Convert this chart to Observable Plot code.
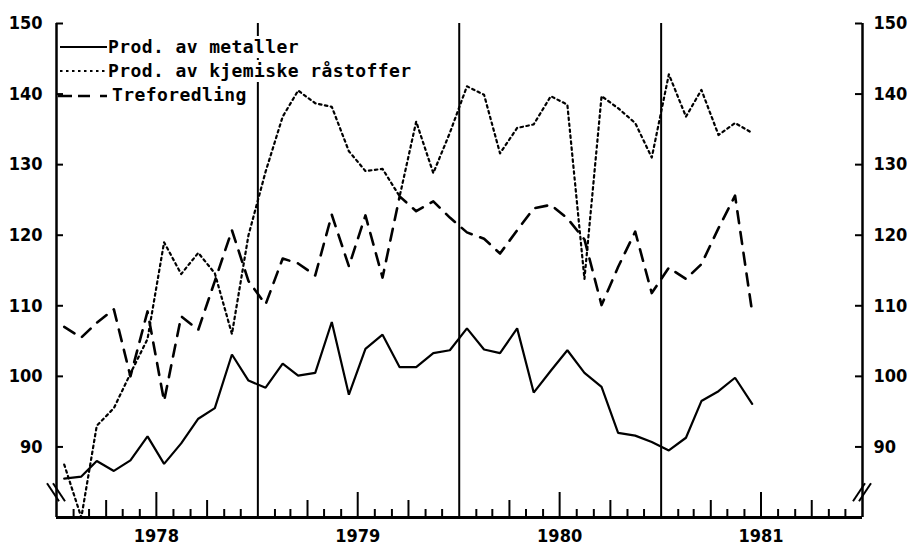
<!DOCTYPE html>
<html><head><meta charset="utf-8">
<script src="https://cdn.jsdelivr.net/npm/d3@7"></script>
<script src="https://cdn.jsdelivr.net/npm/@observablehq/plot@0.6"></script>
<style>
body{margin:0;background:#fff;}
#wrap{position:relative;width:907px;height:550px;}
#legend{position:absolute;left:58px;top:35px;font-family:"DejaVu Sans Mono",monospace;font-weight:bold;font-size:18px;letter-spacing:0.4px;color:#000;}
.row{display:flex;align-items:center;height:24px;white-space:nowrap;}
.row svg{flex:none;display:block;}
.row span{background:#fff;line-height:22px;}
</style></head><body><div id="wrap"><div id="legend"></div></div>
<script>
// Monthly indices, Jan 1978 – Jun 1981 (plotted mid-month)
const firstMonth = "1978-01-01";
const afterLastMonth = "1981-07-01";
const seriesNames = ["Prod. av metaller", "Prod. av kjemiske råstoffer", "Treforedling"];
const metaller = [85.5, 85.8, 88.0, 86.6, 88.1, 91.5, 87.6, 90.5, 94.0, 95.5, 103.1, 99.4,
  98.4, 101.8, 100.1, 100.5, 107.7, 97.4, 103.9, 105.9, 101.3, 101.3, 103.3, 103.7,
  106.8, 103.8, 103.3, 106.8, 97.7, 100.8, 103.7, 100.5, 98.5, 92.0, 91.6, 90.7,
  89.5, 91.3, 96.5, 97.9, 99.8, 96.1];
const kjemiske = [87.5, 80, 93, 95.5, 100.4, 105.3, 119, 114.5, 117.5, 114.6, 106, 120,
  129, 136.8, 140.5, 138.7, 138.2, 131.9, 129.1, 129.4, 125.5, 136.1, 128.8, 134.5,
  141.1, 139.9, 131.6, 135.2, 135.7, 139.7, 138.5, 113.8, 139.7, 138, 135.9, 131,
  142.8, 136.8, 140.6, 134.2, 135.9, 134.5];
const treforedling = [107, 105.5, 107.6, 109.5, 100, 109.2, 96.5, 108.5, 106.6, 113.5, 120.7, 113.5,
  110.2, 116.7, 116, 114.3, 122.9, 115.6, 122.8, 114, 125.5, 123.4, 124.8, 122.5,
  120.4, 119.5, 117.4, 120.7, 123.8, 124.3, 122.4, 119.4, 110.1, 115.5, 120.5, 111.8,
  115.4, 113.8, 115.9, 121, 125.6, 109.1];
const yTicks = [90, 100, 110, 120, 130, 140, 150];
const yearLabels = ["1978", "1979", "1980", "1981"];
const xDomain = ["1978-01-01", "1982-01-01"];
const yDomain = [80, 150];
const breakValue = 83.5;

const W = 907, H = 550, mL = 56, mR = 45, mT = 23, mB = 33;
const innerW = W - mL - mR, innerH = H - mT - mB;

const months = d3.utcMonth.range(new Date(firstMonth), new Date(afterLastMonth))
  .map(d => d3.utcDay.offset(d, 14));
const rows = months.map((date, i) => ({date, metaller: metaller[i], kjemiske: kjemiske[i], treforedling: treforedling[i]}));

const x0 = new Date(xDomain[0]), x1 = new Date(xDomain[1]);
const allMonthStarts = d3.utcMonth.range(x0, x1);
const smallTicks = allMonthStarts.filter(d => ![0, 3, 6, 9].includes(d.getUTCMonth()));
const quarterTicks = allMonthStarts.filter(d => [3, 9].includes(d.getUTCMonth()));
const midTicks = allMonthStarts.filter(d => d.getUTCMonth() === 6);
const yearLines = allMonthStarts.filter(d => d.getUTCMonth() === 0 && +d !== +x0);

const font = '"DejaVu Sans Condensed","DejaVu Sans",sans-serif';

const plot = Plot.plot({
  width: W, height: H,
  marginLeft: mL, marginRight: mR, marginTop: mT, marginBottom: mB,
  x: {type: "utc", domain: [x0, x1], axis: null},
  y: {domain: yDomain, axis: null},
  style: {fontFamily: font, fontSize: "18px", fontWeight: "bold", fontStretch: "condensed", background: "#fff", color: "#000"},
  marks: [
    Plot.ruleX(smallTicks, {insetTop: innerH - 8, strokeWidth: 2}),
    Plot.ruleX(quarterTicks, {insetTop: innerH - 17, strokeWidth: 2}),
    Plot.ruleX(midTicks, {insetTop: innerH - 25, strokeWidth: 2}),
    Plot.ruleX(yearLines, {strokeWidth: 2}),
    Plot.ruleY(yTicks, {insetRight: innerW - 7, strokeWidth: 2}),
    Plot.ruleY(yTicks, {insetLeft: innerW - 7, strokeWidth: 2}),
    Plot.ruleX([x0, x1], {strokeWidth: 2.5}),
    Plot.ruleY([yDomain[0]], {strokeWidth: 3}),
    Plot.text(yTicks, {y: d => d, text: d => String(d), frameAnchor: "left", textAnchor: "end", dx: -14}),
    Plot.text(yTicks, {y: d => d, text: d => String(d), frameAnchor: "right", textAnchor: "start", dx: 11}),
    Plot.text(yearLabels, {x: d => new Date(Date.UTC(+d, 6, 1)), text: d => d, frameAnchor: "bottom", dy: 24}),
    Plot.line(rows, {x: "date", y: "metaller", strokeWidth: 2.2, strokeLinejoin: "miter"}),
    Plot.line(rows, {x: "date", y: "kjemiske", strokeWidth: 2.2, strokeDasharray: "2.5,3.5"}),
    Plot.line(rows, {x: "date", y: "treforedling", strokeWidth: 2.6, strokeDasharray: "12,9"})
  ]
});

document.getElementById("wrap").prepend(plot);

// axis-break marks
const xs = plot.scale("x"), ys = plot.scale("y");
const yb = ys.apply(breakValue), xl = xs.apply(x0), xr = xs.apply(x1);
const g = d3.select(plot).append("g").attr("stroke", "#000").attr("stroke-width", 2).attr("fill", "none");
for (const o of [-3, 3]) {
  g.append("path").attr("d", `M${xl + o - 6},${yb - 9}L${xl + o + 6},${yb + 9}`);
  g.append("path").attr("d", `M${xr + o - 6},${yb + 9}L${xr + o + 6},${yb - 9}`);
}

// legend
const styles = [
  `<line x1="2" x2="49" y1="12" y2="12" stroke="#000" stroke-width="2.2"/>`,
  `<line x1="2" x2="49" y1="12" y2="12" stroke="#000" stroke-width="2.2" stroke-dasharray="2.5,3.5"/>`,
  `<line x1="0" x2="49" y1="13" y2="13" stroke="#000" stroke-width="2.6" stroke-dasharray="14,6,12,10,7"/>`
];
const leg = document.getElementById("legend");
seriesNames.forEach((name, i) => {
  const r = document.createElement("div");
  r.className = "row";
  r.innerHTML = `<svg width="50" height="24">${styles[i]}</svg><span style="margin-left:${i === 2 ? 4 : 0}px">${name}</span>`;
  leg.appendChild(r);
});
</script>
</body></html>
